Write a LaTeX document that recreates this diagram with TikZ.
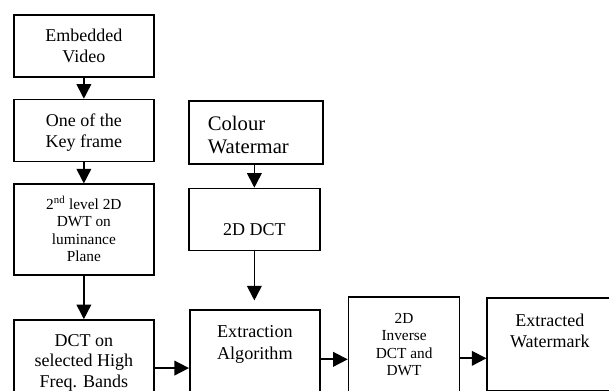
\documentclass[tikz,border=0pt]{standalone}
\usepackage{fontspec}
\setmainfont{Liberation Serif}
\usetikzlibrary{positioning, arrows.meta}
\newlength{\px}\setlength{\px}{0.75pt}
\newcommand{\boxtxt}[5][\centering]{\parbox[c][#3\px][t]{#2\px}{#1\rule{0pt}{#4\px}#5}}
\tikzset{
  box/.style={draw, line width=1.3pt, inner sep=0pt, font=\fontsize{13.5}{15.75}\selectfont},
  smalltext/.style={font=\fontsize{11.5}{13}\selectfont},
  arrow/.style={line width=1.3pt, -{Triangle[length=11pt, width=11pt]}}
}
\begin{document}
\begin{tikzpicture}[x=0.75pt, y=-0.75pt, node distance=21\px]
    \useasboundingbox (0,0) rectangle (609,391);
    \clip (0,0) rectangle (609,391);
    % video branch
    \node (video) [box, anchor=north west] at (13,14) {\boxtxt{140}{62}{27}{Embedded\\Video}};
    \node (keyframe) [box, below=of video] {\boxtxt{140}{62}{27}{One of the\\Key frame}};
    \node (dwt) [box, smalltext, below=of keyframe] {\boxtxt{140}{91}{25}{2\textsuperscript{nd} level 2D\\DWT on\\luminance\\Plane}};
    \node (dct) [box, below=43\px of dwt, font=\fontsize{13.5}{15.4}\selectfont] {\boxtxt{140}{86}{26}{DCT on\\selected High\\Freq. Bands}};
    % watermark branch
    \node (colour) [box, anchor=north west, font=\fontsize{15.5}{17.3}\selectfont] at (188,100) {\boxtxt[\raggedright\leftskip=19\px]{134}{63}{30}{Colour\\Watermar}};
    \node (dct2d) [box, below=23\px of colour.south west, anchor=north west] {\boxtxt{131}{62}{47}{2D DCT}};
    \node (extract) [box, below=58\px of dct2d.south west, anchor=north west, xshift=1\px, font=\fontsize{13.6}{16.5}\selectfont] {\boxtxt{130}{94}{27}{Extraction\\Algorithm}};
    \node (inverse) [box, smalltext, right=27\px of extract.north east, anchor=north west, yshift=13\px] {\boxtxt{111}{107}{26}{2D\\Inverse\\DCT and\\DWT}};
    \node (extracted) [box, right=26\px of inverse.north east, anchor=north west, yshift=-1\px] {\boxtxt{125}{93}{28}{Extracted\\Watermark}};

    \draw [arrow] (video) -- (keyframe);
    \draw [arrow] (keyframe) -- (dwt);
    \draw [arrow] (dwt) -- (dct);
    \draw [arrow] (dct2d |- colour.south) -- (dct2d.north);
    \draw [arrow, shorten >=9\px] (dct2d.south) -- (dct2d.south |- extract.north);
    \draw [arrow] ([yshift=-5\px]dct.east) -- ([yshift=-5\px]dct.east -| extract.west);
    \draw [arrow] ([yshift=-2\px]extract.east) -- ([yshift=-2\px]extract.east -| inverse.west);
    \draw [arrow] ([yshift=-7.5\px]inverse.east) -- ([yshift=-7.5\px]inverse.east -| extracted.west);
\end{tikzpicture}
\end{document}
